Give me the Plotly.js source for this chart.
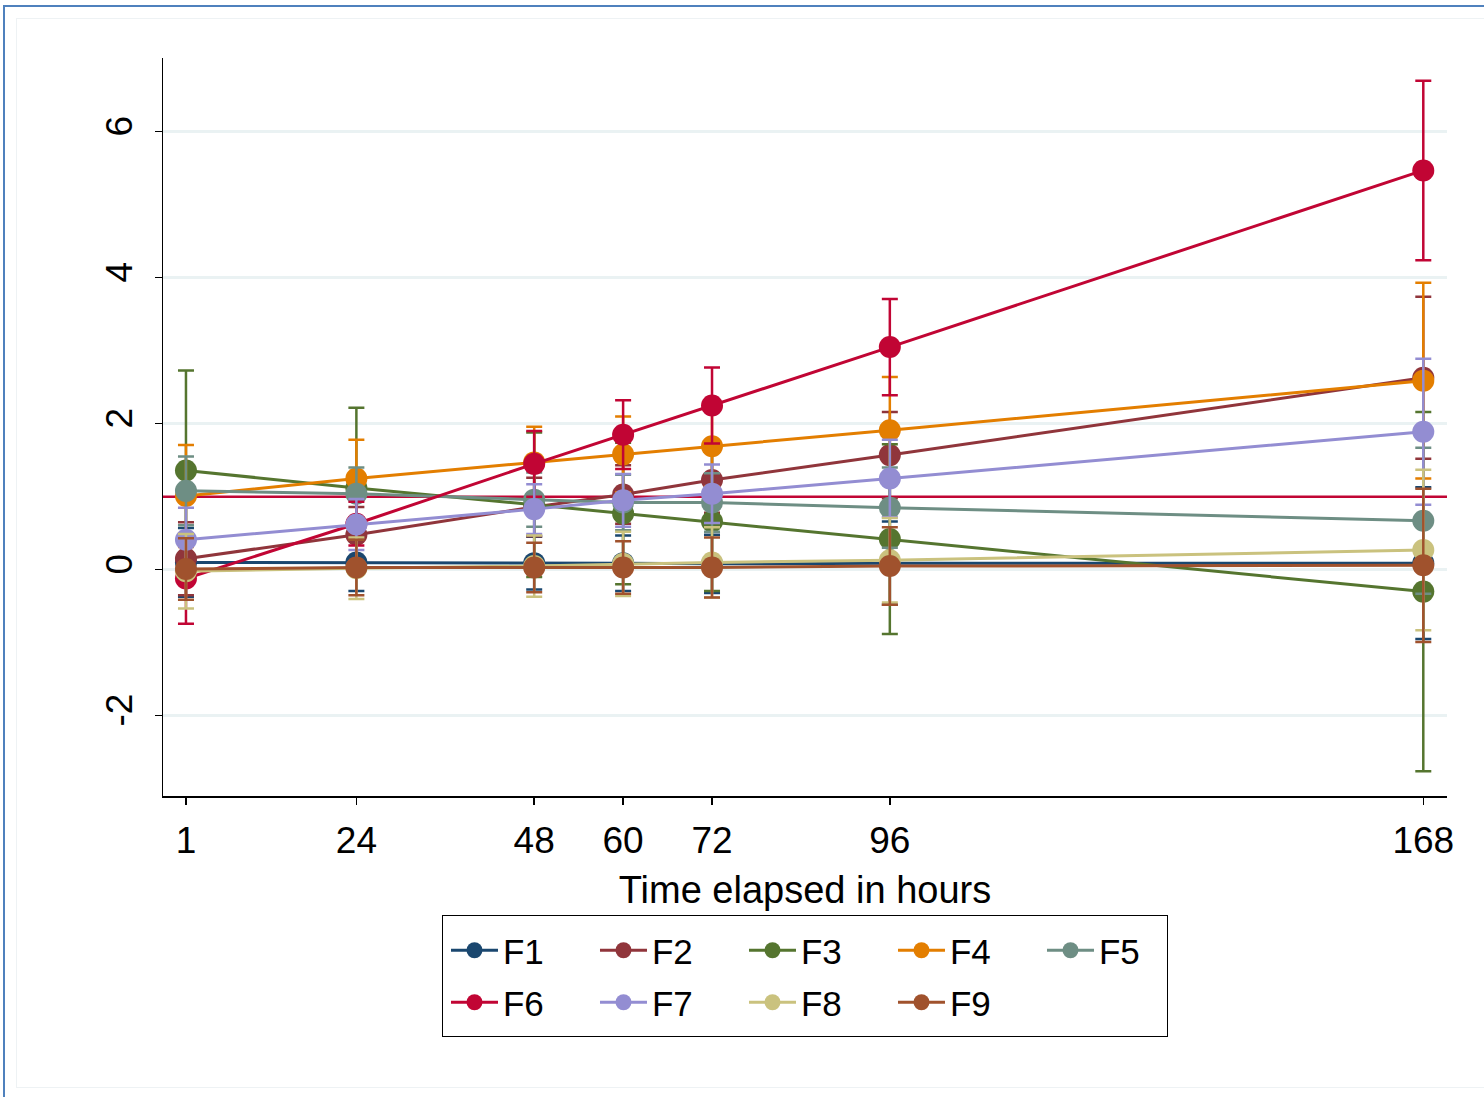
<!DOCTYPE html>
<html><head><meta charset="utf-8">
<script src="https://cdn.plot.ly/plotly-3.0.1.min.js"></script>
<style>
html,body{margin:0;padding:0;background:#fff;}
#wrap{position:relative;width:1484px;height:1097px;overflow:hidden;}
#chart{position:absolute;left:0;top:0;width:1484px;height:1097px;}
#outer{position:absolute;left:3px;top:5px;width:1500px;height:1200px;border-left:2px solid #4f81bd;border-top:2px solid #4f81bd;pointer-events:none;z-index:5;}
#inner{position:absolute;left:16px;top:18px;width:1500px;height:1068px;border-left:1px solid #eef2f4;border-top:1px solid #eef2f4;border-bottom:1px solid #eef2f4;pointer-events:none;z-index:5;}
#legbox{position:absolute;left:442px;top:915px;width:724px;height:120px;border:1.5px solid #000;pointer-events:none;z-index:5;}
</style></head>
<body><div id="wrap"><div id="chart"></div><div id="outer"></div><div id="inner"></div><div id="legbox"></div></div>
<script>
var hours = [1, 24, 48, 60, 72, 96, 168];
var tickLabels = ["1", "24", "48", "60", "72", "96", "168"];
var yTicks = [-2, 0, 2, 4, 6];
var yTickLabels = ["-2", "0", "2", "4", "6"];
var seriesNames = ["F1","F2","F3","F4","F5","F6","F7","F8","F9"];
var F1 = [0.10, 0.10, 0.09, 0.09, 0.08, 0.09, 0.09];
var F1err = [0.47, 0.39, 0.36, 0.38, 0.40, 0.57, 1.04];
var F2 = [0.15, 0.48, 0.86, 1.03, 1.23, 1.57, 2.63];
var F2err = [0.50, 0.38, 0.40, 0.40, 0.45, 0.59, 1.11];
var F3 = [1.36, 1.12, 0.89, 0.77, 0.66, 0.42, -0.30];
var F3err = [1.37, 1.10, 0.99, 0.97, 0.95, 1.30, 2.46];
var F4 = [1.01, 1.25, 1.47, 1.58, 1.69, 1.91, 2.59];
var F4err = [0.70, 0.53, 0.49, 0.52, 0.55, 0.73, 1.34];
var F5 = [1.08, 1.04, 0.96, 0.92, 0.92, 0.85, 0.67];
var F5err = [0.47, 0.36, 0.37, 0.38, 0.40, 0.55, 1.00];
var F6 = [-0.12, 0.63, 1.45, 1.85, 2.25, 3.05, 5.47];
var F6err = [0.62, 0.30, 0.45, 0.47, 0.52, 0.66, 1.23];
var F7 = [0.41, 0.62, 0.83, 0.95, 1.04, 1.25, 1.89];
var F7err = [0.44, 0.35, 0.34, 0.36, 0.40, 0.53, 1.00];
var F8 = [-0.02, 0.02, 0.05, 0.08, 0.10, 0.13, 0.27];
var F8err = [0.51, 0.42, 0.42, 0.44, 0.48, 0.58, 1.10];
var F9 = [0.01, 0.03, 0.03, 0.03, 0.03, 0.05, 0.06];
var F9err = [0.42, 0.38, 0.34, 0.36, 0.41, 0.53, 1.05];
var refLine = 1;

var values = [F1,F2,F3,F4,F5,F6,F7,F8,F9];
var errs = [F1err,F2err,F3err,F4err,F5err,F6err,F7err,F8err,F9err];
var colors = ["#1a476f","#90353b","#55752f","#e37e00","#6e8e84","#c10534","#938dd2","#cac27e","#a0522d"];

var traces = [];
traces.push({
  x: [hours[0]-10, hours[hours.length-1]+10], y: [refLine, refLine],
  mode: "lines", line: {color: "#c10534", width: 2.5},
  showlegend: false, hoverinfo: "skip"
});
for (var i = 0; i < values.length; i++) {
  traces.push({
    x: hours, y: values[i], name: seriesNames[i],
    mode: "lines+markers", type: "scatter",
    legend: i < 5 ? "legend" : "legend2",
    line: {color: colors[i], width: 3},
    marker: {color: colors[i], size: 22, symbol: "circle"},
    error_y: {type: "data", array: errs[i], visible: true, color: colors[i], thickness: 2.5, width: 8}
  });
}

var font = "Liberation Sans, Arial, sans-serif";
var legendCommon = {
  orientation: "h", xanchor: "left", yanchor: "top", x: 0.2204,
  bgcolor: "rgba(0,0,0,0)", borderwidth: 0,
  font: {size: 35, family: font, color: "#000"},
  itemwidth: 47,
  entrywidth: 87, entrywidthmode: "pixels", traceorder: "normal"
};
var legend1 = Object.assign({}, legendCommon, {y: -0.1694});
var legend2 = Object.assign({}, legendCommon, {y: -0.2398});

var layout = {
  width: 1484, height: 1097,
  paper_bgcolor: "#ffffff", plot_bgcolor: "#ffffff",
  margin: {l: 163, r: 37, t: 58, b: 301, pad: 0},
  font: {family: font, color: "#000", size: 35},
  showlegend: true,
  xaxis: {
    range: [-2.1, 171.2], tickvals: hours, ticktext: tickLabels,
    showgrid: false, zeroline: false,
    showline: true, linecolor: "#000", linewidth: 1.5,
    ticks: "outside", ticklen: 7, tickwidth: 1.5, tickcolor: "#000",
    ticklabelstandoff: 4,
    tickfont: {size: 37, family: font, color: "#000"},
    title: {text: "Time elapsed in hours", font: {size: 38, family: font, color: "#000"}, standoff: 16}
  },
  yaxis: {
    range: [-3.1, 7.01], tickvals: yTicks, ticktext: yTickLabels,
    showgrid: true, gridcolor: "#eaf2f3", gridwidth: 2.5, zeroline: false,
    showline: true, linecolor: "#000", linewidth: 1.5,
    ticks: "outside", ticklen: 7, tickwidth: 1.5, tickcolor: "#000",
    tickangle: -90, ticklabelstandoff: 8,
    tickfont: {size: 37, family: font, color: "#000"}
  },
  legend: legend1,
  legend2: legend2
};
Plotly.newPlot("chart", traces, layout, {displayModeBar: false, staticPlot: true});
</script></body></html>
